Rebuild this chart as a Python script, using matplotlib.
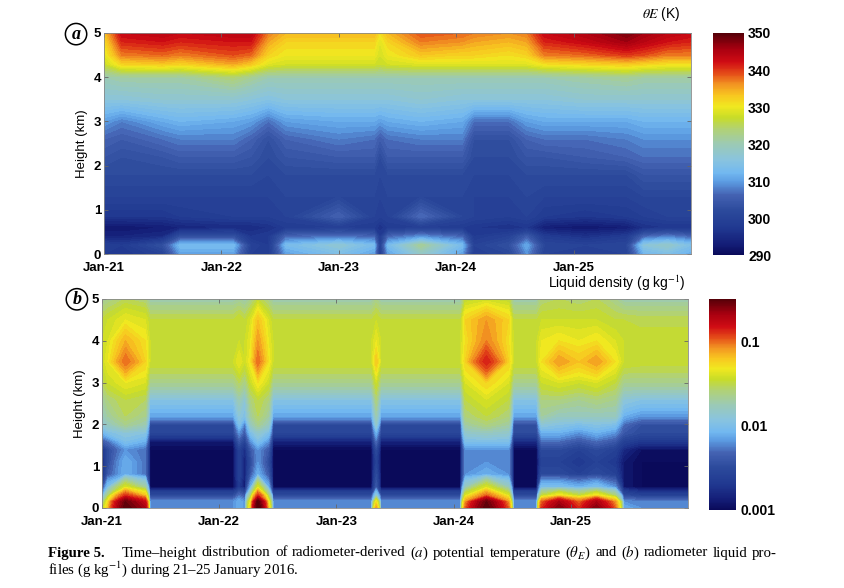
import numpy as np
import matplotlib
matplotlib.use("Agg")
import matplotlib.pyplot as plt
from matplotlib.colors import LinearSegmentedColormap, LogNorm, Normalize
from matplotlib.cm import ScalarMappable

plt.rcParams["font.family"] = ["Liberation Sans", "DejaVu Sans"]
plt.rcParams["mathtext.fontset"] = "stix"

# x axis: days since 21 Jan 2016 00 LT
DAY_TICKS = [0, 1, 2, 3, 4]
DAY_LABELS = ["Jan-21", "Jan-22", "Jan-23", "Jan-24", "Jan-25"]

# ---- panel (a): equivalent potential temperature (K) ----
T_A = [0.0, 0.15, 0.5, 0.65, 1.1, 1.25, 1.4, 1.55, 2.0, 2.3, 2.35, 2.42,
       2.7, 3.05, 3.15, 3.45, 3.6, 3.75, 4.1, 4.45, 4.6, 4.8, 5.0]
H_A = [0, 0.2, 0.4, 0.6, 0.85, 1.3, 1.8, 2.2, 2.6, 3.0, 3.5, 4.0, 4.3, 4.5, 4.8, 5.0]
# one row per height (bottom -> top), one value per time in T_A
THETA_E = [
    [298, 297, 300, 310, 310, 299, 298, 310, 314, 310, 298, 310, 318, 310, 299, 301, 309, 300, 299, 300, 312, 314, 311],
    [299, 298, 303, 313, 313, 300, 298, 313, 317, 313, 299, 313, 322, 313, 300, 303, 311, 301, 300, 301, 316, 318, 314],
    [294, 294, 295, 303, 303, 297, 298, 306, 307, 306, 298, 306, 309, 306, 298, 300, 305, 298, 296, 298, 306, 308, 306],
    [292, 292, 293, 294, 295, 295, 296, 298, 299, 298, 296, 298, 299, 298, 297, 296, 297, 293, 292, 293, 296, 297, 297],
    [297, 297, 297, 298, 299, 299, 299, 300, 306, 300, 299, 300, 307, 301, 300, 299, 300, 298, 297, 298, 299, 300, 300],
    [300, 300, 300, 300, 300, 300, 300, 301, 301, 301, 300, 301, 301, 301, 300, 300, 301, 300, 300, 300, 301, 301, 301],
    [302, 302, 302, 302, 302, 302, 301, 302, 302, 302, 301, 302, 302, 302, 301, 301, 302, 302, 302, 302, 304, 304, 304],
    [304, 303, 304, 305, 305, 304, 302, 304, 305, 305, 302, 305, 305, 305, 302, 302, 304, 304, 305, 306, 307, 307, 307],
    [306, 305, 307, 308, 308, 306, 303, 306, 308, 307, 305, 307, 308, 308, 303, 303, 306, 307, 307, 308, 309, 309, 309],
    [310, 308, 311, 312, 311, 310, 307, 310, 311, 311, 310, 311, 312, 311, 307, 307, 310, 311, 311, 311, 312, 312, 312],
    [316, 316, 317, 317, 317, 316, 315, 316, 316, 316, 316, 316, 317, 316, 316, 316, 316, 316, 317, 317, 317, 317, 317],
    [320, 321, 321, 321, 324, 322, 320, 320, 320, 320, 320, 320, 320, 320, 320, 320, 320, 320, 321, 322, 321, 321, 321],
    [327, 332, 333, 332, 335, 333, 329, 328, 328, 328, 327, 328, 329, 329, 329, 329, 329, 331, 332, 333, 332, 331, 331],
    [329, 337, 338, 337, 339, 338, 332, 330, 330, 330, 328, 330, 333, 332, 332, 331, 332, 337, 338, 340, 339, 337, 337],
    [331, 341, 342, 341, 342, 342, 335, 332, 332, 332, 329, 332, 337, 336, 335, 334, 335, 341, 343, 346, 344, 342, 341],
    [333, 343, 344, 343, 344, 344, 337, 334, 334, 334, 331, 334, 339, 338, 337, 336, 337, 343, 345, 348, 346, 344, 343],
]

# ---- panel (b): radiometer liquid profile, log10(g/kg) ----
H_B = [0, 0.15, 0.3, 0.5, 0.8, 1.1, 1.4, 1.6, 1.8, 2.0, 2.2, 2.6, 3.0, 3.5, 4.0, 4.5, 5.0]
T_B = [0.0, 0.05, 0.2, 0.37, 0.41, 1.12, 1.17, 1.22, 1.27, 1.33, 1.42, 1.46,
       2.3, 2.34, 2.38, 3.06, 3.1, 3.28, 3.47, 3.51, 3.71, 3.75, 3.9, 4.07,
       4.22, 4.38, 4.45, 4.6, 5.0]
# one column per time in T_B, values bottom -> top
LWC_LOG_COLS = [
    [-1.6, -1.8, -2.2, -2.6, -2.9, -2.9, -2.8, -2.4, -2.1, -1.9, -1.8, -1.7, -1.55, -1.45, -1.45, -1.5, -1.7],
    [-1.2, -1.3, -1.6, -2.0, -2.4, -2.5, -2.5, -2.3, -2.0, -1.8, -1.7, -1.6, -1.45, -1.35, -1.4, -1.45, -1.65],
    [-0.5, -0.55, -0.9, -1.4, -2.1, -2.1, -2.2, -2.0, -1.9, -1.65, -1.55, -1.5, -1.35, -1.0, -1.15, -1.35, -1.55],
    [-0.7, -0.8, -1.2, -1.7, -2.3, -2.3, -2.3, -2.1, -1.95, -1.75, -1.65, -1.55, -1.4, -1.25, -1.3, -1.4, -1.6],
    [-2.2, -2.2, -2.5, -3.0, -3.0, -3.0, -3.0, -2.9, -2.55, -2.5, -2.15, -1.95, -1.65, -1.45, -1.45, -1.5, -1.75],
    [-2.2, -2.2, -2.5, -3.0, -3.0, -3.0, -3.0, -2.9, -2.55, -2.5, -2.15, -1.95, -1.65, -1.45, -1.45, -1.5, -1.75],
    [-2.1, -2.1, -2.3, -2.7, -2.6, -2.6, -2.6, -2.4, -2.2, -2.0, -1.9, -1.75, -1.55, -1.35, -1.45, -1.45, -1.7],
    [-2.2, -2.2, -2.4, -2.9, -2.9, -2.9, -2.8, -2.6, -2.4, -2.3, -2.0, -1.9, -1.65, -1.45, -1.45, -1.5, -1.75],
    [-1.2, -1.3, -1.6, -2.1, -2.4, -2.5, -2.4, -2.2, -2.0, -1.8, -1.7, -1.6, -1.45, -1.3, -1.35, -1.4, -1.65],
    [-0.45, -0.5, -0.9, -1.4, -2.1, -2.2, -2.2, -2.0, -1.85, -1.65, -1.55, -1.5, -1.3, -1.0, -1.1, -1.2, -1.5],
    [-1.2, -1.3, -1.6, -2.1, -2.4, -2.5, -2.4, -2.2, -2.0, -1.8, -1.7, -1.6, -1.45, -1.3, -1.35, -1.4, -1.65],
    [-2.2, -2.2, -2.5, -3.0, -3.0, -3.0, -3.0, -2.85, -2.55, -2.5, -2.15, -1.95, -1.65, -1.45, -1.45, -1.5, -1.75],
    [-2.2, -2.2, -2.5, -3.0, -3.0, -3.0, -3.0, -2.85, -2.55, -2.5, -2.15, -1.95, -1.65, -1.45, -1.45, -1.5, -1.75],
    [-1.1, -1.3, -1.9, -2.4, -2.5, -2.6, -2.5, -2.3, -2.1, -1.85, -1.75, -1.6, -1.45, -1.2, -1.35, -1.45, -1.65],
    [-2.2, -2.2, -2.5, -3.0, -3.0, -3.0, -3.0, -2.85, -2.55, -2.5, -2.15, -1.95, -1.65, -1.45, -1.45, -1.5, -1.75],
    [-2.2, -2.2, -2.5, -3.0, -3.0, -3.0, -3.0, -2.85, -2.55, -2.5, -2.15, -1.95, -1.65, -1.45, -1.45, -1.5, -1.75],
    [-1.0, -1.1, -1.4, -1.8, -2.2, -2.2, -2.2, -2.0, -1.85, -1.7, -1.6, -1.5, -1.4, -1.25, -1.3, -1.25, -1.5],
    [-0.5, -0.55, -1.0, -1.4, -2.1, -2.2, -2.2, -2.0, -1.8, -1.6, -1.5, -1.4, -1.25, -0.85, -1.05, -1.1, -1.45],
    [-1.0, -1.1, -1.4, -1.8, -2.2, -2.2, -2.2, -2.0, -1.85, -1.7, -1.6, -1.5, -1.4, -1.25, -1.3, -1.25, -1.5],
    [-2.2, -2.2, -2.5, -3.0, -3.0, -3.0, -3.0, -2.8, -2.5, -2.45, -2.15, -1.95, -1.65, -1.45, -1.45, -1.5, -1.75],
    [-2.2, -2.2, -2.5, -3.0, -3.0, -3.0, -3.0, -2.8, -2.5, -2.45, -2.15, -1.95, -1.65, -1.45, -1.45, -1.5, -1.75],
    [-0.9, -1.0, -1.5, -2.0, -2.5, -2.6, -2.5, -2.3, -2.1, -1.9, -1.7, -1.6, -1.45, -1.3, -1.35, -1.45, -1.6],
    [-0.6, -0.7, -1.3, -2.0, -2.5, -2.6, -2.5, -2.3, -2.1, -1.95, -1.8, -1.6, -1.4, -1.1, -1.3, -1.45, -1.55],
    [-0.9, -1.0, -1.5, -2.1, -2.6, -2.7, -2.6, -2.4, -2.2, -2.0, -1.8, -1.65, -1.45, -1.2, -1.35, -1.45, -1.6],
    [-0.6, -0.7, -1.3, -2.0, -2.5, -2.6, -2.5, -2.3, -2.1, -1.95, -1.8, -1.6, -1.4, -1.1, -1.3, -1.45, -1.55],
    [-1.0, -1.1, -1.6, -2.2, -2.6, -2.7, -2.6, -2.4, -2.2, -2.0, -1.8, -1.65, -1.5, -1.3, -1.4, -1.5, -1.65],
    [-2.1, -2.2, -2.5, -2.9, -2.9, -2.9, -2.8, -2.6, -2.4, -2.3, -2.1, -1.9, -1.65, -1.45, -1.45, -1.5, -1.75],
    [-2.2, -2.25, -2.6, -3.0, -3.0, -3.0, -2.95, -2.7, -2.5, -2.45, -2.2, -1.95, -1.65, -1.47, -1.47, -1.52, -1.75],
    [-2.2, -2.25, -2.6, -3.0, -3.0, -3.0, -2.95, -2.7, -2.5, -2.45, -2.2, -1.95, -1.65, -1.47, -1.47, -1.52, -1.75],
]

# jet-like colour table
cmap = LinearSegmentedColormap.from_list("radjet", [
    (0.00, "#0a0a5a"), (0.05, "#141e78"), (0.12, "#203890"), (0.20, "#2c4a9c"),
    (0.27, "#4462b2"), (0.33, "#5c9ce2"), (0.37, "#72b8f0"), (0.43, "#8ac4de"),
    (0.50, "#9ccab4"), (0.57, "#b2d272"), (0.62, "#c8dc28"), (0.67, "#f0e820"),
    (0.72, "#f8c620"), (0.77, "#f29422"), (0.82, "#e44a18"), (0.87, "#d00c14"),
    (0.93, "#a80010"), (1.00, "#560008"),
])

fig = plt.figure(figsize=(8.45, 5.88), dpi=100)
ax_a = fig.add_axes([0.1231, 0.568, 0.6947, 0.3759])
cax_a = fig.add_axes([0.8438, 0.566, 0.0367, 0.3779])
ax_b = fig.add_axes([0.1207, 0.1361, 0.6935, 0.3554])
cax_b = fig.add_axes([0.8391, 0.1327, 0.032, 0.3588])

# (a)
norm_a = Normalize(290, 350)
ax_a.contourf(T_A, H_A, np.array(THETA_E), levels=np.linspace(290, 350, 61),
              cmap=cmap, norm=norm_a, extend="both")
cb_a = fig.colorbar(ScalarMappable(norm=norm_a, cmap=cmap), cax=cax_a)
cb_a.set_ticks([290, 300, 310, 320, 330, 340, 350])

# (b)
lwc = 10 ** np.array(LWC_LOG_COLS).T
norm_b = LogNorm(1e-3, 10 ** -0.5)
ax_b.contourf(T_B, H_B, lwc, levels=np.logspace(-3, -0.5, 51),
              cmap=cmap, norm=norm_b, extend="both")
cb_b = fig.colorbar(ScalarMappable(norm=norm_b, cmap=cmap), cax=cax_b)
cb_b.set_ticks([0.001, 0.01, 0.1])
cb_b.set_ticklabels(["0.001", "0.01", "0.1"])
cb_b.ax.minorticks_off()

for ax in (ax_a, ax_b):
    ax.set_xlim(0, 5)
    ax.set_ylim(0, 5)
    ax.set_xticks(DAY_TICKS)
    ax.set_xticklabels(DAY_LABELS)
    ax.set_yticks([0, 1, 2, 3, 4, 5])
    ax.tick_params(direction="in", top=True, right=True, length=3, width=0.6,
                   labelsize=9.5, pad=2, color="#666666")
    ax.tick_params(axis="x", pad=5.5)
    for lbl in ax.get_xticklabels() + ax.get_yticklabels():
        lbl.set_fontweight("bold")
    ax.set_ylabel("Height (km)", fontsize=9.5, labelpad=4)
    for s in ax.spines.values():
        s.set_linewidth(0.6)
        s.set_color("#888888")

for cb in (cb_a, cb_b):
    cb.outline.set_visible(False)
    cb.ax.tick_params(length=0, labelsize=10, pad=3)
    for lbl in cb.ax.get_yticklabels():
        lbl.set_fontweight("bold")

# circled panel letters
for x, y, letter in [(0.090, 0.942, "a"), (0.091, 0.491, "b")]:
    fig.text(x, y, letter, family="Liberation Serif", style="italic", weight="bold",
             fontsize=13, ha="center", va="center",
             bbox=dict(boxstyle="circle,pad=0.12", fc="white", ec="black", lw=1.1))

fig.text(0.806, 0.976, r"$\theta E$ (K)", ha="right", va="center", fontsize=10)
fig.text(0.812, 0.518, r"Liquid density (g kg$^{-1}$)", ha="right", va="center", fontsize=10)

# caption, first line justified between x = 122 px and x = 777 px
cap = dict(family="Liberation Serif", fontsize=10.7, va="center")
fig.text(48 / 845, 1 - 553 / 588, "Figure 5.", weight="bold", **cap)
words = ["Time–height", "distribution", "of", "radiometer-derived", "($a$)", "potential",
         "temperature", r"($\theta_E$)", "and", "($b$)", "radiometer", "liquid", "pro-"]
texts = [fig.text(0, 1 - 553 / 588, w, **cap) for w in words]
renderer = fig.canvas.get_renderer()
widths = [t.get_window_extent(renderer).width for t in texts]
x0, x1 = 122.0, 777.0
gap = (x1 - x0 - sum(widths)) / (len(words) - 1)
x = x0
for t, w in zip(texts, widths):
    t.set_x(x / fig.bbox.width)
    x += w + gap
fig.text(48 / 845, 1 - 569 / 588, r"files (g kg$^{-1}$) during 21–25 January 2016.", **cap)

fig.savefig("out.png", dpi=100)
